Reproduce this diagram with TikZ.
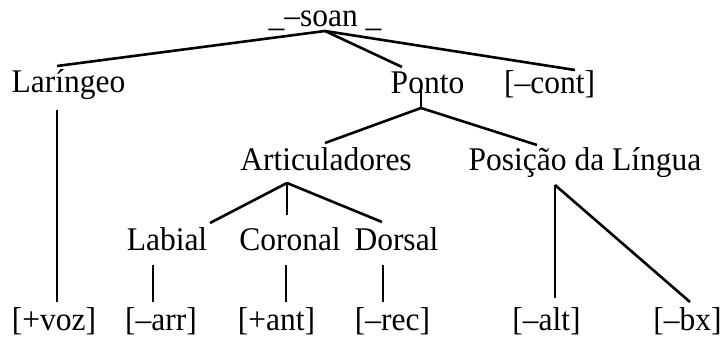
\documentclass[tikz,border=0pt]{standalone}
\usepackage{fontspec}
\usepackage{graphicx}
\setmainfont{Liberation Serif}
\newcommand{\tallt}[1]{\scalebox{1}[1.05]{#1}}
\begin{document}
\begin{tikzpicture}[x=1pt,y=-1pt,
  lbl/.style={anchor=base,inner sep=0pt,font=\fontsize{31.5}{36}\selectfont},
  edge/.style={line width=2.6pt}]
\useasboundingbox (0,0) rectangle (725,340);
% nodes
\node[lbl] (root) at (325,27) {\tallt{\_–soan \_}};
\node[lbl] (lar) at (68.5,92) {\tallt{Laríngeo}};
\node[lbl] (ponto) at (427.5,93) {\tallt{Ponto}};
\node[lbl] (cont) at (549.5,93) {\tallt{[–cont]}};
\node[lbl] (art) at (326,170) {\tallt{Articuladores}};
\node[lbl] (pos) at (585,170) {\tallt{Posição da Língua}};
\node[lbl] (lab) at (167,250) {\tallt{Labial}};
\node[lbl] (cor) at (290,250) {\tallt{Coronal}};
\node[lbl] (dor) at (396.5,250) {\tallt{Dorsal}};
\node[lbl] (voz) at (54,330) {\tallt{[+voz]}};
\node[lbl] (arr) at (161,330) {\tallt{[–arr]}};
\node[lbl] (ant) at (276.5,330) {\tallt{[+ant]}};
\node[lbl] (rec) at (392.5,330) {\tallt{[–rec]}};
\node[lbl] (alt) at (546.5,330) {\tallt{[–alt]}};
\node[lbl] (bx) at (687.5,330) {\tallt{[–bx]}};
% attachment points
\coordinate (rootB) at (325,31);
\coordinate (larT) at (57,66);
\coordinate (larB) at (57,110);
\coordinate (pontoT) at (402,67);
\coordinate (pontoM) at (421,85);
\coordinate (pontoB) at (421,108);
\coordinate (contT) at (575,70);
\coordinate (artT) at (325,143);
\coordinate (artB) at (287,183);
\coordinate (posT) at (537,145);
\coordinate (posB) at (555,185);
\coordinate (labT) at (210,223);
\coordinate (labB) at (153,265);
\coordinate (corT) at (287,215);
\coordinate (corB) at (286,265);
\coordinate (dorT) at (382,222);
\coordinate (dorB) at (383,265);
\coordinate (vozT) at (57,302);
\coordinate (arrT) at (153,302);
\coordinate (antT) at (286,302);
\coordinate (recT) at (383,302);
\coordinate (altT) at (555,298);
\coordinate (bxT) at (690,302);
% connectors
\draw[edge] (rootB) -- (larT);
\draw[edge] (rootB) -- (pontoT);
\draw[edge] (rootB) -- (contT);
\draw[edge] (larB) -- (vozT);
\draw[edge] (pontoM) -- (pontoB);
\draw[edge] (pontoB) -- (artT);
\draw[edge] (pontoB) -- (posT);
\draw[edge] (artB) -- (labT);
\draw[edge] (artB) -- (corT);
\draw[edge] (artB) -- (dorT);
\draw[edge] (labB) -- (arrT);
\draw[edge] (corB) -- (antT);
\draw[edge] (dorB) -- (recT);
\draw[edge] (posB) -- (altT);
\draw[edge] (posB) -- (bxT);
\end{tikzpicture}
\end{document}
